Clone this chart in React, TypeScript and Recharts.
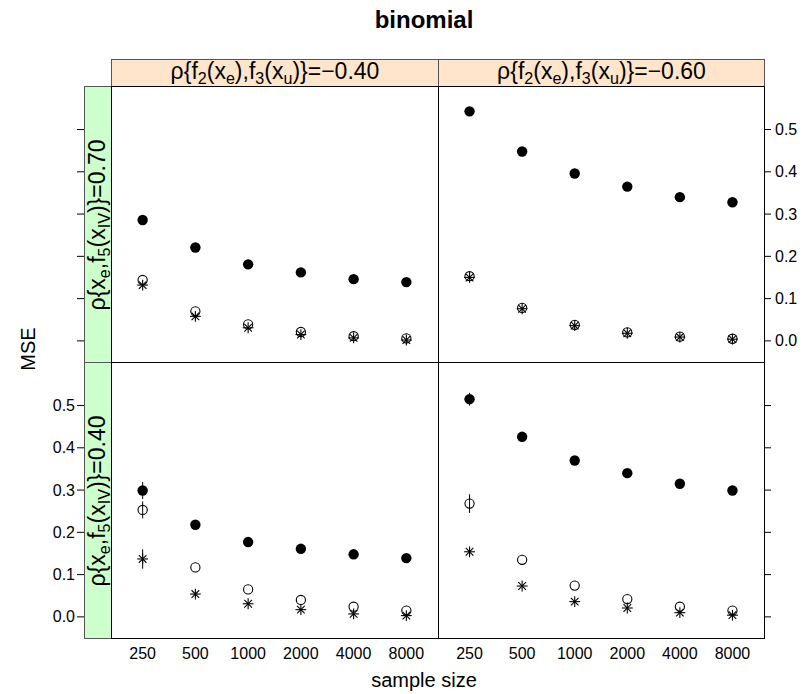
import React from 'react'
import { ScatterChart, Scatter, XAxis, YAxis, ErrorBar } from 'recharts'

const sampleSizes = ['250', '500', '1000', '2000', '4000', '8000']
const sizeIndex = [1, 2, 3, 4, 5, 6]
const mseTicks = [0, 0.1, 0.2, 0.3, 0.4, 0.5]

// strip values: columns rho{f2(xe),f3(xu)}, rows rho{xe,f5(xIV)}
const colRho = ['−0.40', '−0.60']
const rowRho = ['0.70', '0.40']

// row rho = 0.70, col rho = -0.40
const filledTL = [0.286, 0.221, 0.181, 0.162, 0.146, 0.139]
const openTL = [0.144, 0.07, 0.039, 0.021, 0.011, 0.006]
const starTL = [0.132, 0.058, 0.031, 0.015, 0.007, 0.002]

// row rho = 0.70, col rho = -0.60
const filledTR = [0.543, 0.448, 0.396, 0.365, 0.34, 0.328]
const openTR = [0.153, 0.078, 0.038, 0.02, 0.01, 0.005]
const starTR = [0.15, 0.076, 0.036, 0.018, 0.009, 0.004]

// row rho = 0.40, col rho = -0.40
const filledBL = [0.299, 0.218, 0.177, 0.161, 0.148, 0.139]
const openBL = [0.253, 0.117, 0.065, 0.04, 0.024, 0.015]
const starBL = [0.137, 0.054, 0.031, 0.017, 0.007, 0.003]
const filledErrBL = [0.02, 0, 0, 0, 0, 0]
const openErrBL = [0.02, 0, 0, 0, 0, 0]
const starErrBL = [0.023, 0, 0, 0, 0, 0]

// row rho = 0.40, col rho = -0.60
const filledBR = [0.515, 0.426, 0.37, 0.34, 0.315, 0.299]
const openBR = [0.268, 0.135, 0.074, 0.042, 0.024, 0.015]
const starBR = [0.154, 0.073, 0.036, 0.021, 0.01, 0.004]
const filledErrBR = [0.015, 0, 0, 0, 0, 0]
const openErrBR = [0.022, 0, 0, 0, 0, 0]
const starErrBR = [0.01, 0, 0, 0, 0, 0]

const zeros = [0, 0, 0, 0, 0, 0]

const FONT = '"Liberation Sans", Arial, Helvetica, sans-serif'

const panels = [
  { row: 0, col: 0, filled: filledTL, open: openTL, star: starTL, errs: [zeros, zeros, zeros] },
  { row: 0, col: 1, filled: filledTR, open: openTR, star: starTR, errs: [zeros, zeros, zeros] },
  { row: 1, col: 0, filled: filledBL, open: openBL, star: starBL, errs: [filledErrBL, openErrBL, starErrBL] },
  { row: 1, col: 1, filled: filledBR, open: openBR, star: starBR, errs: [filledErrBR, openErrBR, starErrBR] },
]

// panel geometry
const colX = [111, 438]
const colW = [327, 326]
const rowY = [86, 362]
const panelH = 276
const stripH = 27
const leftStripX = 84
const stripFont = 23

const toRows = (vals: number[], errs: number[]) =>
  sizeIndex.map((i, k) => ({ i, y: vals[k], err: errs[k] }))

const FilledDot = (p: any) => <circle cx={p.cx} cy={p.cy} r={5.2} fill="#000" />
const OpenDot = (p: any) => (
  <circle cx={p.cx} cy={p.cy} r={4.6} fill="none" stroke="#000" strokeWidth={1.1} />
)
const Star = (p: any) => {
  const r = 5.4
  const d = 3.8
  return (
    <g stroke="#000" strokeWidth={1.1}>
      <line x1={p.cx} y1={p.cy - r} x2={p.cx} y2={p.cy + r} />
      <line x1={p.cx - r} y1={p.cy} x2={p.cx + r} y2={p.cy} />
      <line x1={p.cx - d} y1={p.cy - d} x2={p.cx + d} y2={p.cy + d} />
      <line x1={p.cx - d} y1={p.cy + d} x2={p.cx + d} y2={p.cy - d} />
    </g>
  )
}

const Sub = ({ children }: { children: React.ReactNode }) => (
  <span style={{ fontSize: '0.7em', position: 'relative', top: '0.3em' }}>{children}</span>
)

function Panel({ row, col, filled, open, star, errs }: (typeof panels)[number]) {
  const left = col === 0
  const bottom = row === 1
  const axisW = left ? 70 : 40
  const chartX = left ? colX[col] - axisW : colX[col]
  const xh = bottom ? 30 : 0
  const showLabels = (left && bottom) || (!left && !bottom)

  const yTick = (props: any) => {
    const { x, y, payload } = props
    if (left) {
      const edge = x - (colX[0] - leftStripX)
      return (
        <g>
          <line x1={edge - 7} x2={edge} y1={y} y2={y} stroke="#000" />
          {showLabels && (
            <text x={edge - 9} y={y} textAnchor="end" dominantBaseline="central" fontSize={16} fontFamily={FONT}>
              {payload.value.toFixed(1)}
            </text>
          )}
        </g>
      )
    }
    return (
      <g>
        <line x1={x} x2={x + 7} y1={y} y2={y} stroke="#000" />
        {showLabels && (
          <text x={x + 11} y={y} textAnchor="start" dominantBaseline="central" fontSize={16} fontFamily={FONT}>
            {payload.value.toFixed(1)}
          </text>
        )}
      </g>
    )
  }

  const xTick = (props: any) => (
    <text x={props.x} y={props.y + 15} textAnchor="middle" dominantBaseline="central" fontSize={16} fontFamily={FONT}>
      {sampleSizes[props.payload.value - 1]}
    </text>
  )

  return (
    <div style={{ position: 'absolute', left: chartX, top: rowY[row] }}>
      <ScatterChart width={colW[col] + axisW} height={panelH + xh} margin={{ top: 0, right: 0, bottom: 0, left: 0 }}>
        <XAxis
          type="number"
          dataKey="i"
          domain={[0.4, 6.6]}
          ticks={sizeIndex}
          allowDataOverflow
          hide={!bottom}
          height={xh}
          interval={0}
          tickSize={0}
          tickMargin={0}
          axisLine={false}
          tickLine={false}
          tick={xTick}
        />
        <YAxis
          type="number"
          dataKey="y"
          domain={[-0.05, 0.603]}
          ticks={mseTicks}
          allowDataOverflow
          orientation={left ? 'left' : 'right'}
          width={axisW}
          interval={0}
          tickSize={0}
          tickMargin={0}
          axisLine={false}
          tickLine={false}
          tick={yTick}
        />
        <Scatter data={toRows(filled, errs[0])} shape={FilledDot} isAnimationActive={false}>
          {bottom && <ErrorBar dataKey="err" direction="y" width={0} stroke="#000" strokeWidth={1} />}
        </Scatter>
        <Scatter data={toRows(open, errs[1])} shape={OpenDot} isAnimationActive={false}>
          {bottom && <ErrorBar dataKey="err" direction="y" width={0} stroke="#000" strokeWidth={1} />}
        </Scatter>
        <Scatter data={toRows(star, errs[2])} shape={Star} isAnimationActive={false}>
          {bottom && <ErrorBar dataKey="err" direction="y" width={0} stroke="#000" strokeWidth={1} />}
        </Scatter>
      </ScatterChart>
    </div>
  )
}

export default function App() {
  const totalLeft = leftStripX
  const totalRight = colX[1] + colW[1]
  const centerX = (totalLeft + totalRight) / 2
  const top = rowY[0] - stripH
  const bottomEdge = rowY[1] + panelH

  return (
    <div
      style={{
        position: 'absolute',
        left: 0,
        top: 0,
        width: 804,
        height: 694,
        background: '#fff',
        overflow: 'hidden',
        fontFamily: FONT,
      }}
    >
      <div
        style={{
          position: 'absolute',
          left: centerX - 150,
          width: 300,
          top: 6,
          textAlign: 'center',
          fontSize: 24,
          fontWeight: 'bold',
          lineHeight: '28px',
        }}
      >
        binomial
      </div>

      {/* column strips */}
      {colRho.map((v, c) => (
        <div
          key={'cs' + c}
          style={{
            position: 'absolute',
            left: colX[c],
            top,
            width: colW[c] + 1,
            height: stripH + 1,
            boxSizing: 'border-box',
            background: '#ffe5cc',
            border: '1px solid #555',
            textAlign: 'center',
            fontSize: stripFont,
            lineHeight: '23px',
            whiteSpace: 'nowrap',
          }}
        >
          ρ{'{'}f<Sub>2</Sub>(x<Sub>e</Sub>),f<Sub>3</Sub>(x<Sub>u</Sub>){'}'}={v}
        </div>
      ))}

      {/* row strips */}
      {rowRho.map((v, r) => (
        <div
          key={'rs' + r}
          style={{
            position: 'absolute',
            left: leftStripX,
            top: rowY[r],
            width: colX[0] - leftStripX + 1,
            height: panelH + 1,
            boxSizing: 'border-box',
            background: '#ccffcc',
            border: '1px solid #555',
          }}
        >
          <div
            style={{
              position: 'absolute',
              left: (colX[0] - leftStripX) / 2 - 0.5,
              top: panelH / 2,
              transform: 'translate(-50%, -50%) rotate(-90deg)',
              fontSize: stripFont,
              lineHeight: '23px',
              whiteSpace: 'nowrap',
            }}
          >
            ρ{'{'}x<Sub>e</Sub>,f<Sub>5</Sub>(x<Sub>IV</Sub>){'}'}={v}
          </div>
        </div>
      ))}

      {/* panel frames */}
      {panels.map((p) => (
        <div
          key={'f' + p.row + p.col}
          style={{
            position: 'absolute',
            left: colX[p.col],
            top: rowY[p.row],
            width: colW[p.col] + 1,
            height: panelH + 1,
            boxSizing: 'border-box',
            border: '1px solid #000',
          }}
        />
      ))}

      {panels.map((p) => (
        <Panel key={'p' + p.row + p.col} {...p} />
      ))}

      <div
        style={{
          position: 'absolute',
          left: centerX - 150,
          width: 300,
          top: 668,
          textAlign: 'center',
          fontSize: 20,
          lineHeight: '24px',
        }}
      >
        sample size
      </div>
      <div
        style={{
          position: 'absolute',
          left: 28,
          top: (top + bottomEdge) / 2,
          transform: 'translate(-50%, -50%) rotate(-90deg)',
          fontSize: 20,
          lineHeight: '24px',
        }}
      >
        MSE
      </div>
    </div>
  )
}
